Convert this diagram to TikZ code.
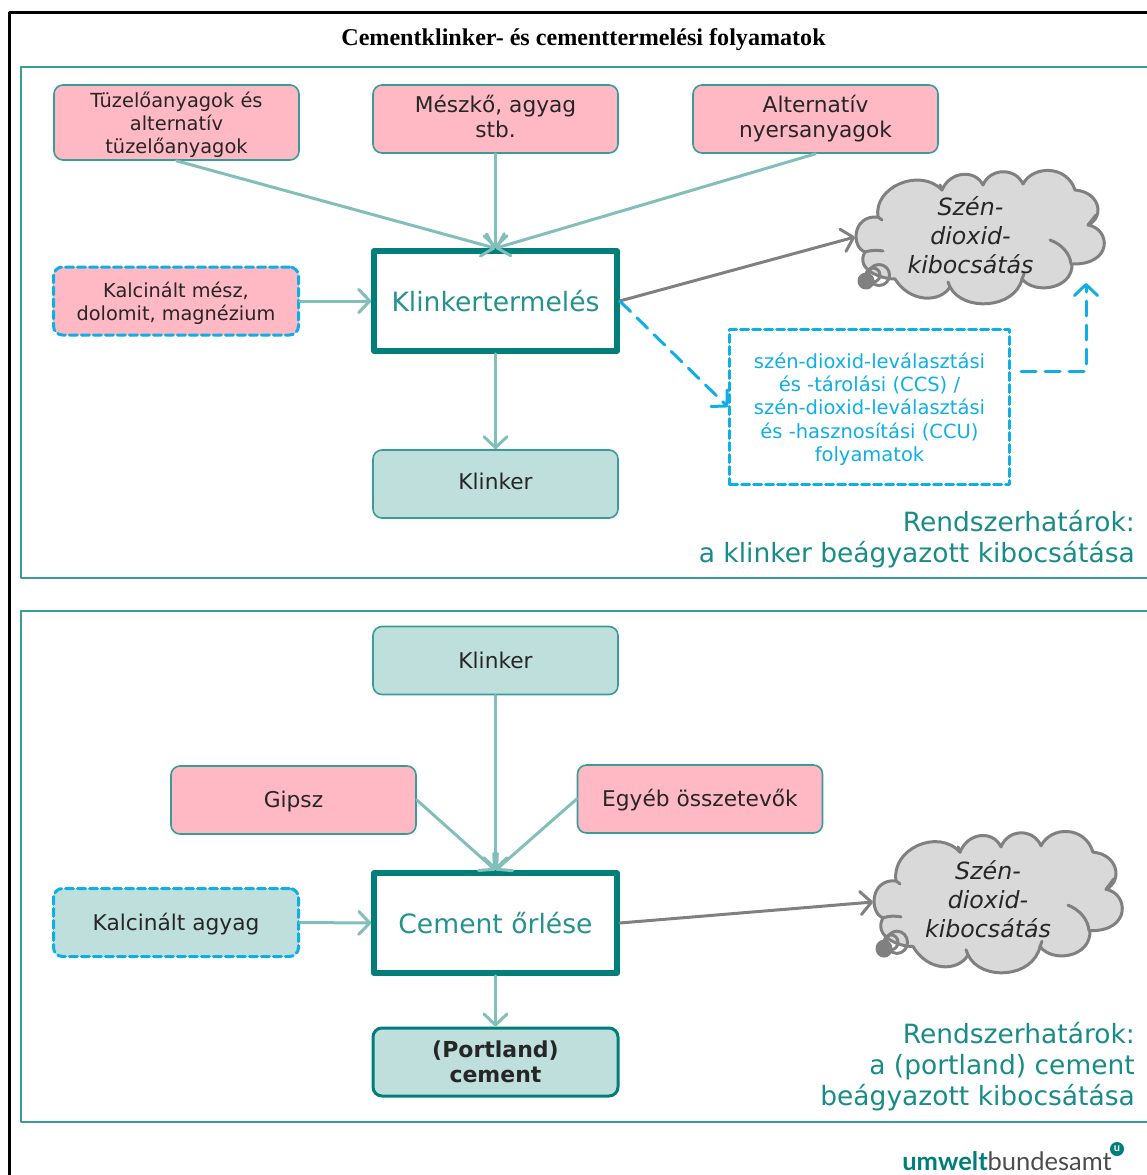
\documentclass[tikz,border=0pt]{standalone}
\usepackage{fontspec}
\setmainfont{DejaVu Sans}
\newfontfamily\cimfont{Liberation Serif}
\newfontfamily\logofont{Lato}
\usetikzlibrary{arrows.meta}
\definecolor{rozsa}{HTML}{FFB9C4}
\definecolor{menta}{HTML}{BFDFDD}
\definecolor{keret}{HTML}{3A9C99}
\definecolor{sotet}{HTML}{007F7A}
\definecolor{nyil}{HTML}{82BEBA}
\definecolor{kek}{HTML}{0FAEE6}
\definecolor{szurke}{HTML}{808080}
\definecolor{felhoszin}{HTML}{D9D9D9}
\newcommand{\lenyom}{\rule{0pt}{20pt}}
\newcommand{\felhuz}{\rule[-4.5pt]{0pt}{4.5pt}}
\tikzset{
	doboz/.style={rounded corners=9pt, draw=keret, line width=1.6pt, align=center, text=black!85, inner sep=0pt, minimum width=245pt, minimum height=68pt, font=\fontsize{21.7}{25}\selectfont},
	rozsabox/.style={doboz, fill=rozsa},
	mentabox/.style={doboz, fill=menta},
	szaggatott/.style={draw=kek, line width=3pt, dash pattern=on 8pt off 4pt},
	folyamat/.style={draw=sotet, line width=5.5pt, text=sotet!85, fill=white, inner sep=0pt, minimum width=243pt, minimum height=100pt, font=\fontsize{26.6}{30}\selectfont},
	hatar/.style={text=sotet!90, align=right, anchor=south east, inner sep=0pt, font=\fontsize{26.5}{31}\selectfont},
	be/.style={->, draw=nyil, line width=3pt},
	ki/.style={->, draw=szurke, line width=3pt},
	ccsnyil/.style={->, draw=kek, line width=3pt},
}
% felho: #1 nev, #2 bal csucs, #3 fuggoleges nyujtas, #4 szoveg helye
\newcommand{\felho}[4]{
	\begin{scope}[shift={(#2)}, yscale=#3, draw=szurke, line width=3pt, line join=round, line cap=round]
		\coordinate (#1bal) at (0,0);
		\filldraw[fill=felhoszin] (10,15)
		.. controls (-4,10) and (-3,-22) .. (23,-20)
		.. controls (18,-50) and (65,-70) .. (87,-47)
		.. controls (95,-66) and (120,-68) .. (128,-52)
		.. controls (135,-69) and (160,-70) .. (168,-53)
		.. controls (178,-72) and (212,-72) .. (220,-47)
		.. controls (245,-45) and (250,-20) .. (233,-12)
		.. controls (256,-8) and (258,28) .. (217,27)
		.. controls (218,52) and (180,58) .. (167,42)
		.. controls (160,72) and (108,75) .. (95,50)
		.. controls (85,66) and (55,66) .. (40,42)
		.. controls (25,42) and (0,32) .. cycle;
		\draw (10,15) .. controls (16,13) and (22,13) .. (28,14);
		\draw (23,-20) -- (27,-17);
		\draw (87,-47) -- (85,-52);
		\draw (233,-12) -- (241,-22);
		\draw (195,3) .. controls (206,7) and (215,16) .. (216,27);
		\draw (167,42) -- (169,37);
		\draw (95,50) -- (93,45);
		\draw (24,38) circle (10.5);
		\draw (18,38) circle (7);
		\filldraw[fill=szurke] (11,44) circle (7);
	\end{scope}
	\node (#1) at (#4)[text=black!85, align=center, inner sep=0pt, font=\fontsize{23.7}{29}\selectfont\itshape]{Szén-\\dioxid-\\kibocsátás};
}
\begin{document}
\begin{tikzpicture}[x=1pt,y=-1pt,>={Straight Barb[length=11pt,width=23pt,round]}, line join=round, line cap=round]
	\useasboundingbox (0,0) rectangle (1147,1175);
	\draw[black, line width=3pt, line cap=butt] (9,1175)--(9,12)--(1147,12);
	\node (cim) at (583.5,40)[inner sep=0pt, font=\fontsize{24.1}{28}\cimfont\bfseries]{Cementklinker- és cementtermelési folyamatok};
	\draw[keret, line width=2.4pt, line cap=butt] (1147,67)--(21,67)--(21,578)--(1147,578);
	\draw[keret, line width=2.4pt, line cap=butt] (1147,611)--(21,611)--(21,1122)--(1147,1122);
	
	\node (tuzelo) at (176.5,122.5)[rozsabox, minimum height=75pt, font=\fontsize{19.4}{22.7}\selectfont]{\lenyom Tüzelőanyagok és\\alternatív\\tüzelőanyagok};
	\node (meszko) at (495.5,119)[rozsabox]{Mészkő, agyag\\stb.\felhuz};
	\node (alternativ) at (815.5,119)[rozsabox]{Alternatív\\nyersanyagok};
	\node (kalcinalt) at (176,301)[rozsabox, szaggatott, font=\fontsize{19.3}{23}\selectfont]{\lenyom Kalcinált mész,\\dolomit, magnézium};
	\node (klinkertermeles) at (495.5,301)[folyamat]{Klinkertermelés};
	\node (klinkerA) at (495.5,484)[mentabox]{Klinker\felhuz};
	\node (ccs) at (869.5,407)[szaggatott, text=kek, align=center, inner sep=0pt, minimum width=280pt, minimum height=155pt, font=\fontsize{19.5}{23.2}\selectfont]{\lenyom szén-dioxid-leválasztási\\és -tárolási (CCS) /\\szén-dioxid-leválasztási\\és -hasznosítási (CCU)\\folyamatok};
	\node (hatarA) at (1135,568)[hatar]{Rendszerhatárok:\\a klinker beágyazott kibocsátása};
	\felho{felhoA}{855,237}{1}{970.5,235}
	
	\node (klinkerB) at (495.5,660.5)[mentabox]{Klinker};
	\node (gipsz) at (293.5,800)[rozsabox]{\lenyom Gipsz};
	\node (egyeb) at (700,799)[rozsabox]{\lenyom Egyéb összetevők};
	\node (agyag) at (176,922.5)[mentabox, szaggatott]{\lenyom Kalcinált agyag};
	\node (orles) at (495.5,923)[folyamat]{Cement őrlése};
	\node (portland) at (495.5,1062)[mentabox, draw=sotet, line width=3pt, font=\fontsize{22}{25}\selectfont\bfseries]{(Portland)\\cement};
	\node (hatarB) at (1135,1111)[hatar]{Rendszerhatárok:\\a (portland) cement\\beágyazott kibocsátása};
	\felho{felhoB}{873,902}{1.06}{988,899.5}
	
	\draw[be] (tuzelo.south)--(klinkertermeles.north);
	\draw[be] (meszko.south)--(klinkertermeles.north);
	\draw[be] (alternativ.south)--(klinkertermeles.north);
	\draw[be] (kalcinalt.east)--(klinkertermeles.west);
	\draw[be] (klinkertermeles.south)--(klinkerA.north);
	\draw[ki] (klinkertermeles.east)--(felhoAbal);
	\draw[ccsnyil, dash pattern=on 15pt off 9pt] (klinkertermeles.east)--(ccs.west);
	\path (1021,371) coordinate (ccski) (1086,283) coordinate (ccscel);
	\draw[ccsnyil, dash pattern=on 15pt off 9pt] (ccski) -| (ccscel);
	
	\draw[be] (klinkerB.south)--(orles.north);
	\draw[be] (gipsz.east)--(orles.north);
	\draw[be] (egyeb.west)--(orles.north);
	\draw[be] (agyag.east)--(orles.west);
	\draw[be] (orles.south)--(portland.north);
	\draw[ki] (orles.east)--(felhoBbal);
	
	\node (logo) at (1112,1171)[anchor=south east, inner sep=0pt, text=black!70, font=\fontsize{25.5}{30}\logofont]{\textcolor{sotet}{\bfseries umwelt}bundesamt};
	\node (logou) at (1117,1149)[circle, fill=sotet, text=white, inner sep=0pt, minimum size=14pt, font=\fontsize{11}{11}\logofont\bfseries]{u};
\end{tikzpicture}
\end{document}
